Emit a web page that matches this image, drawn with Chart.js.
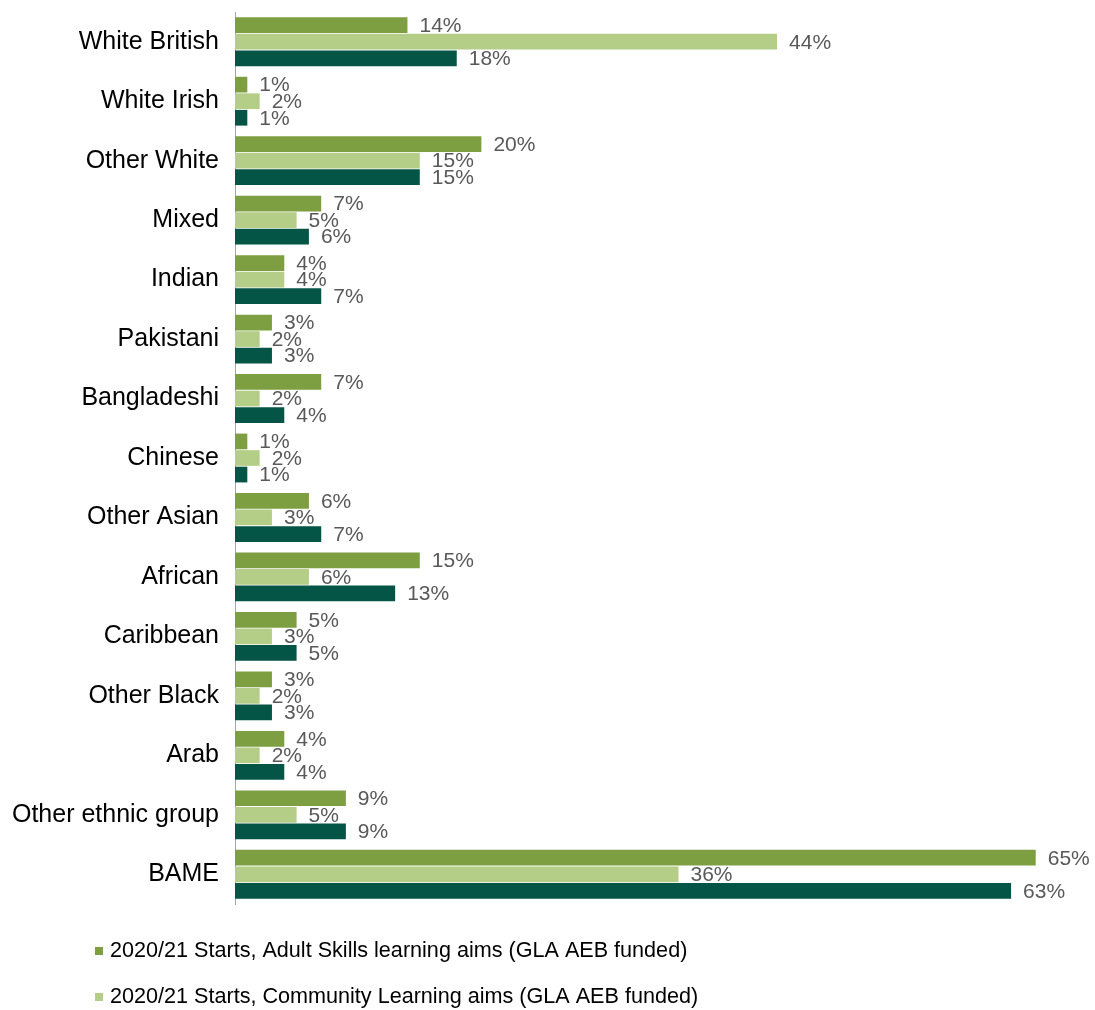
<!DOCTYPE html>
<html>
<head>
<meta charset="utf-8">
<script src="https://cdn.jsdelivr.net/npm/chart.js@4.4.1/dist/chart.umd.min.js"></script>
<style>
  html, body { margin: 0; padding: 0; background: #ffffff; }
  canvas { display: block; }
</style>
</head>
<body>
<canvas id="chart" width="1095" height="1010"></canvas>
<script>
// Ethnic groups shown down the axis
const categories = [
  'White British', 'White Irish', 'Other White', 'Mixed', 'Indian', 'Pakistani',
  'Bangladeshi', 'Chinese', 'Other Asian', 'African', 'Caribbean', 'Other Black',
  'Arab', 'Other ethnic group', 'BAME'
];

// Share of starts (%) per group
const adultSkills       = [14, 1, 20, 7, 4, 3, 7, 1, 6, 15, 5, 3, 4, 9, 65];
const communityLearning = [44, 2, 15, 5, 4, 2, 2, 2, 3, 6, 3, 2, 2, 5, 36];
const allFundedAims     = [18, 1, 15, 6, 7, 3, 4, 1, 7, 13, 5, 3, 4, 9, 63];

const seriesNames = [
  '2020/21 Starts, Adult Skills learning aims (GLA AEB funded)',
  '2020/21 Starts, Community Learning aims (GLA AEB funded)',
  '2020/21 Starts, all learning aims (GLA AEB funded)'
];
const seriesColours = ['#7d9e41', '#b4ce87', '#055547'];

const FONT = '"Liberation Sans", Arial, sans-serif';

// Percentage labels to the right of each bar
const valueLabels = {
  id: 'valueLabels',
  afterDatasetsDraw(chart) {
    const ctx = chart.ctx;
    ctx.save();
    ctx.font = '21px ' + FONT;
    ctx.fillStyle = '#595959';
    ctx.textAlign = 'left';
    ctx.textBaseline = 'middle';
    chart.data.datasets.forEach((ds, di) => {
      const meta = chart.getDatasetMeta(di);
      meta.data.forEach((bar, i) => {
        ctx.fillText(ds.data[i] + '%', bar.x + 12, bar.y + 1);
      });
    });
    ctx.restore();
  }
};

// Legend listing the first two series, one per row, under the plot
const stackedLegend = {
  id: 'stackedLegend',
  afterDraw(chart) {
    const ctx = chart.ctx;
    const rows = [951, 997];
    ctx.save();
    ctx.font = '21.6px ' + FONT;
    ctx.textAlign = 'left';
    ctx.textBaseline = 'middle';
    rows.forEach((y, i) => {
      const ds = chart.data.datasets[i];
      ctx.fillStyle = ds.backgroundColor;
      ctx.fillRect(95, y - 4, 8, 8);
      ctx.fillStyle = '#000000';
      ctx.fillText(ds.label, 110, y);
    });
    ctx.restore();
  }
};

new Chart(document.getElementById('chart'), {
  type: 'bar',
  data: {
    labels: categories,
    datasets: [
      { label: seriesNames[0], data: adultSkills,       backgroundColor: seriesColours[0] },
      { label: seriesNames[1], data: communityLearning, backgroundColor: seriesColours[1] },
      { label: seriesNames[2], data: allFundedAims,     backgroundColor: seriesColours[2] }
    ]
  },
  options: {
    indexAxis: 'y',
    responsive: false,
    animation: false,
    datasets: {
      bar: { barPercentage: 0.95, categoryPercentage: 0.835 }
    },
    layout: { padding: { top: 12, right: 10, bottom: 106, left: 0 } },
    scales: {
      x: { display: false, min: 0, max: 69 },
      y: {
        grid: { display: false, drawTicks: false },
        border: { display: true, color: '#a6a6a6', width: 1 },
        ticks: { color: '#000000', font: { family: FONT, size: 25 }, padding: 16 },
        afterFit(scale) {
          scale.width = 235;
          scale.paddingTop = 0;
          scale.paddingBottom = 0;
        }
      }
    },
    plugins: {
      legend: { display: false },
      tooltip: { enabled: false }
    }
  },
  plugins: [valueLabels, stackedLegend]
});
</script>
</body>
</html>
